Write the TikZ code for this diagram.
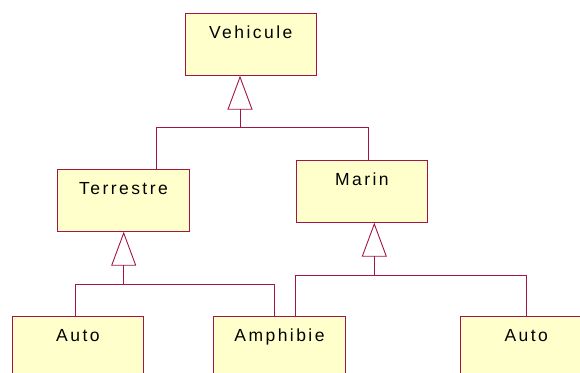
\documentclass[tikz,border=0pt]{standalone}
\usepackage{fontspec}
\setmainfont{Liberation Sans}[LetterSpace=14]
\usetikzlibrary{arrows.meta}
\definecolor{umlline}{RGB}{165,20,70}
\definecolor{umlfill}{RGB}{255,255,204}
\begin{document}
\begin{tikzpicture}[x=1pt,y=-1pt,
  classbox/.style={draw=umlline, fill=umlfill, line width=0.9pt, anchor=north west,
    minimum width=131.5pt, inner xsep=0pt, inner ysep=0pt,
    text height=25pt, text depth=36.5pt, font=\fontsize{17.5}{20}\selectfont},
  link/.style={draw=umlline, line width=0.9pt},
  gen/.style={link, -{Triangle[open, length=34pt, width=25pt]}}]
  \path[use as bounding box, clip] (0,0) rectangle (580,372);

  % classes
  \node[classbox] (veh)   at (184.5,13.3)  {Vehicule};
  \node[classbox] (terr)  at (57.3,169.3)  {Terrestre};
  \node[classbox] (marin) at (295.7,160.3) {Marin};
  \node[classbox] (auto1) at (11.7,315.7)  {Auto};
  \node[classbox] (amph)  at (213.3,315.7) {Amphibie};
  \node[classbox] (auto2) at (460,315.7)   {Auto};

  % bus junctions
  \coordinate (b1)  at (240,127.3);
  \coordinate (b1l) at (156,127.3);
  \coordinate (b1r) at (368.7,127.3);
  \coordinate (b2)  at (123.7,284);
  \coordinate (b2l) at (75.7,284);
  \coordinate (b2r) at (274,284);
  \coordinate (b3)  at (374.3,275);
  \coordinate (b3l) at (295.7,275);
  \coordinate (b3r) at (526.3,275);

  % generalisation: Terrestre, Marin -> Vehicule
  \draw[link] (terr.north -| b1l) -- (b1l) -- (b1r) -- (marin.north -| b1r);
  \draw[gen] (b1) -- (veh.south -| b1);

  % generalisation: Auto, Amphibie -> Terrestre
  \draw[link] (auto1.north -| b2l) -- (b2l) -- (b2r) -- (amph.north -| b2r);
  \draw[gen] (b2) -- (terr.south -| b2);

  % generalisation: Amphibie, Auto -> Marin
  \draw[link] (amph.north -| b3l) -- (b3l) -- (b3r) -- (auto2.north -| b3r);
  \draw[gen] (b3) -- (marin.south -| b3);
\end{tikzpicture}
\end{document}
